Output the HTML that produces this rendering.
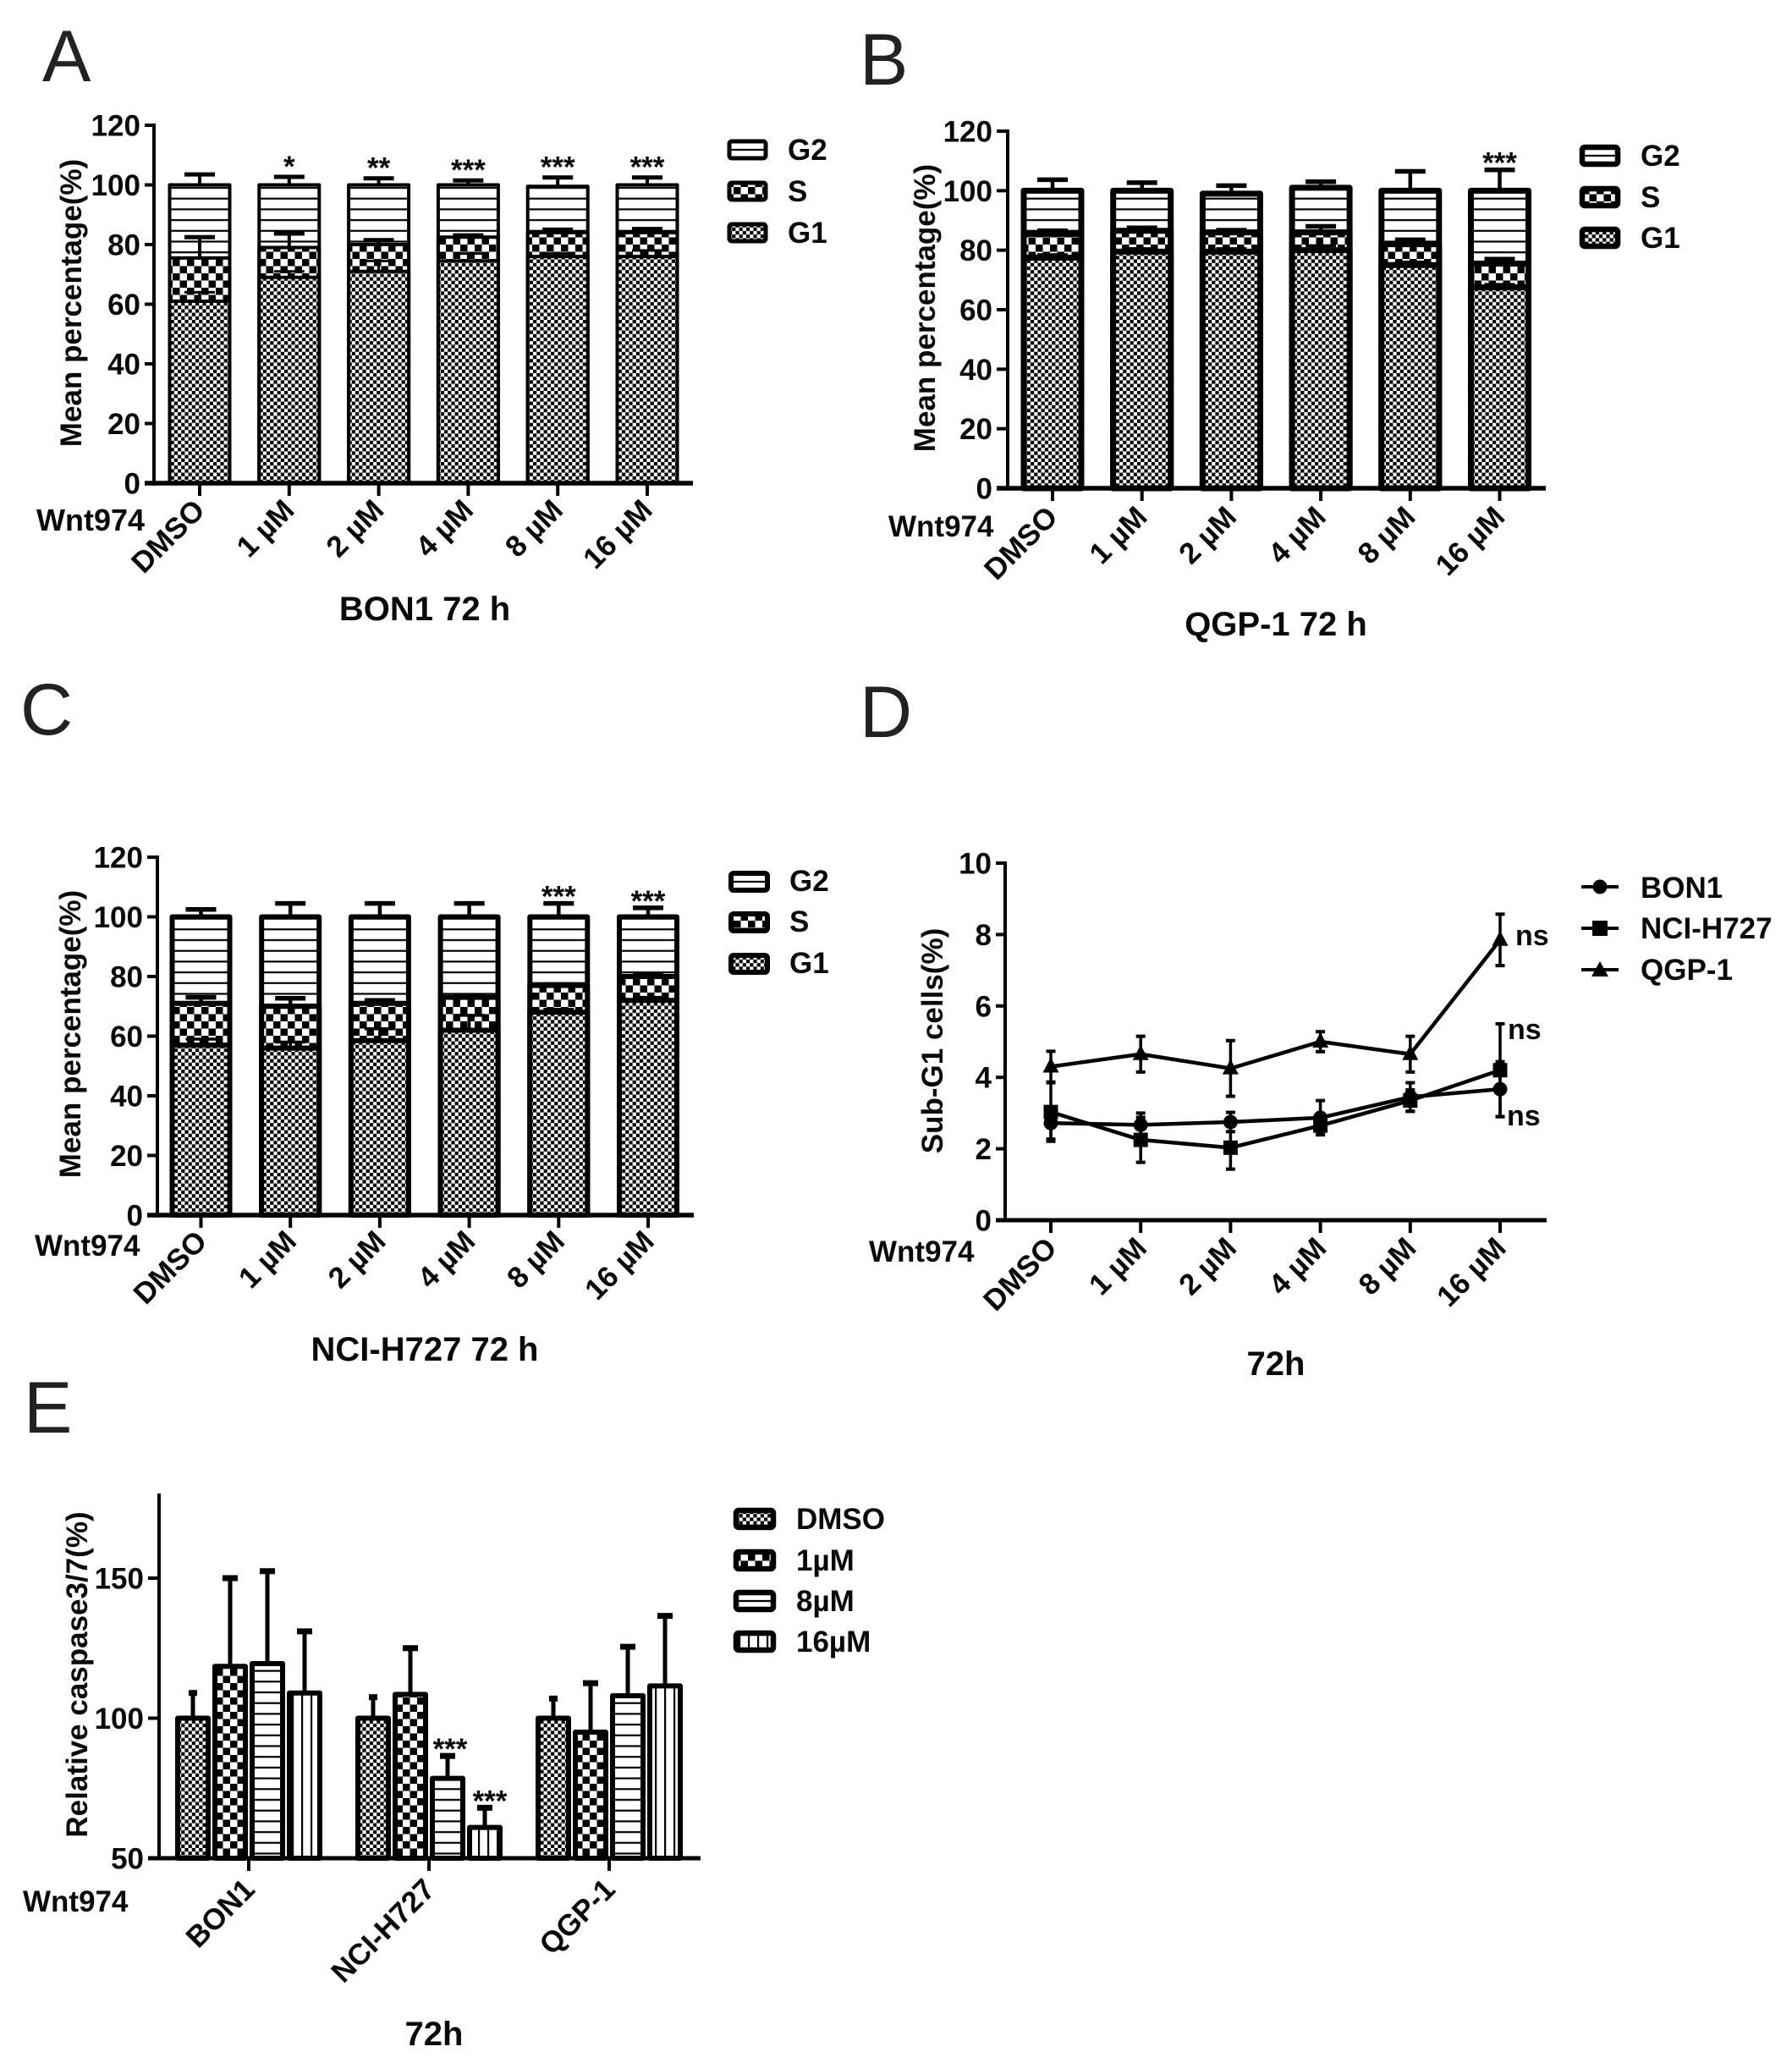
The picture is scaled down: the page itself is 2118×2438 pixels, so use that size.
<!DOCTYPE html>
<html lang="en">
<head>
<meta charset="utf-8">
<title>Wnt974 cell cycle, sub-G1 and caspase panels</title>
<style>
html,body{margin:0;padding:0;background:#fff;width:2118px;height:2438px;overflow:hidden}
svg{display:block}
text{font-family:"Liberation Sans",Arial,sans-serif;font-weight:700;fill:#0a0a0a}
.tk{font-size:35px}
.ttl{font-size:40px;text-anchor:middle}
.yt{font-size:35px;text-anchor:middle}
.lg{font-size:35px;transform:translate(-1px,-1px)}
.let{font-size:86px;font-weight:400;fill:#222}
.ns{font-size:34px}
</style>
</head>
<body>
<svg id="figure" xmlns="http://www.w3.org/2000/svg" width="2118" height="2438" viewBox="0 0 2118 2438">
<defs>
<pattern id="pFine" patternUnits="userSpaceOnUse" width="8.4" height="8.4"><rect width="8.4" height="8.4" fill="#fff"/><rect width="4.2" height="4.2" fill="#000"/><rect x="4.2" y="4.2" width="4.2" height="4.2" fill="#000"/></pattern>
<pattern id="pBig" patternUnits="userSpaceOnUse" width="17" height="17"><rect width="17" height="17" fill="#fff"/><rect width="8.5" height="8.5" fill="#000"/><rect x="8.5" y="8.5" width="8.5" height="8.5" fill="#000"/></pattern>
<pattern id="pHorz" patternUnits="userSpaceOnUse" width="12" height="12.7"><rect width="12" height="12.7" fill="#fff"/><rect y="5" width="12" height="2.2" fill="#000"/></pattern>
<pattern id="pVert" patternUnits="userSpaceOnUse" width="11" height="12"><rect width="11" height="12" fill="#fff"/><rect x="4" width="2.2" height="12" fill="#000"/></pattern>
</defs>
<rect width="2118" height="2438" fill="#fff"/>

<g id="panelA">
<text class="let" x="50" y="96">A</text>
<text class="yt" transform="translate(96,358) rotate(-90)">Mean percentage(%)</text>
<text class="tk" x="43" y="627" style="font-size:36px">Wnt974</text>
<text class="ttl" x="502" y="733">BON1 72 h</text>
<g>
<rect x="862" y="167" width="43" height="20" rx="3" fill="#fff" stroke="#000" stroke-width="5"/><line x1="862" x2="905" y1="177" y2="177" stroke="#000" stroke-width="2.2"/>
<rect x="862" y="216" width="43" height="20" rx="3" fill="url(#pBig)" stroke="#000" stroke-width="5"/>
<rect x="862" y="265" width="43" height="20" rx="3" fill="url(#pFine)" stroke="#000" stroke-width="5"/>
<text class="lg" x="932" y="190">G2</text>
<text class="lg" x="932" y="239">S</text>
<text class="lg" x="932" y="288">G1</text>
</g>
</g>

<g id="panelB">
<text class="let" x="1016" y="100">B</text>
<text class="yt" transform="translate(1105,364) rotate(-90)">Mean percentage(%)</text>
<text class="tk" x="1050" y="634">Wnt974</text>
<text class="ttl" x="1508" y="751">QGP-1 72 h</text>
<g>
<rect x="1870" y="174" width="42" height="20" rx="3" fill="#fff" stroke="#000" stroke-width="6.5"/><line x1="1870" x2="1912" y1="184" y2="184" stroke="#000" stroke-width="2.2"/>
<rect x="1870" y="223" width="42" height="20" rx="3" fill="url(#pBig)" stroke="#000" stroke-width="6.5"/>
<rect x="1870" y="271" width="42" height="20" rx="3" fill="url(#pFine)" stroke="#000" stroke-width="6.5"/>
<text class="lg" x="1940" y="197">G2</text>
<text class="lg" x="1940" y="246">S</text>
<text class="lg" x="1940" y="294">G1</text>
</g>
</g>

<g id="panelC">
<text class="let" x="24" y="868">C</text>
<text class="yt" transform="translate(95,1222) rotate(-90)">Mean percentage(%)</text>
<text class="tk" x="41" y="1484">Wnt974</text>
<text class="ttl" x="502" y="1608">NCI-H727 72 h</text>
<g>
<rect x="864" y="1032" width="43" height="20" rx="3" fill="#fff" stroke="#000" stroke-width="6"/><line x1="864" x2="907" y1="1042" y2="1042" stroke="#000" stroke-width="2.2"/>
<rect x="864" y="1080" width="43" height="20" rx="3" fill="url(#pBig)" stroke="#000" stroke-width="6"/>
<rect x="864" y="1129" width="43" height="20" rx="3" fill="url(#pFine)" stroke="#000" stroke-width="6"/>
<text class="lg" x="934" y="1054">G2</text>
<text class="lg" x="934" y="1102">S</text>
<text class="lg" x="934" y="1151">G1</text>
</g>
</g>

<g id="panelD">
<text class="let" x="1016" y="871">D</text>
<text class="yt" transform="translate(1114,1230) rotate(-90)">Sub-G1 cells(%)</text>
<text class="tk" x="1027" y="1491">Wnt974</text>
<text class="ttl" x="1508" y="1625">72h</text>
<g>
<line x1="1869" x2="1913" y1="1048" y2="1048" stroke="#000" stroke-width="4"/><circle cx="1891" cy="1048" r="8.5"/>
<line x1="1869" x2="1913" y1="1097" y2="1097" stroke="#000" stroke-width="4"/><rect x="1882" y="1088" width="18" height="18"/>
<line x1="1869" x2="1913" y1="1146" y2="1146" stroke="#000" stroke-width="4"/><polygon points="1891,1136 1901,1154 1881,1154"/>
<text class="lg" x="1940" y="1062">BON1</text>
<text class="lg" x="1940" y="1110">NCI-H727</text>
<text class="lg" x="1940" y="1159">QGP-1</text>
</g>
<text class="ns" x="1791" y="1117">ns</text>
<text class="ns" x="1782" y="1228">ns</text>
<text class="ns" x="1781" y="1330">ns</text>
</g>

<g id="panelE">
<text class="let" x="28" y="1693">E</text>
<text class="yt" transform="translate(103,1979) rotate(-90)">Relative caspase3/7(%)</text>
<text class="tk" x="27" y="2259">Wnt974</text>
<text class="ttl" x="513" y="2417">72h</text>
<g>
<rect x="870" y="1785" width="44" height="20" rx="3" fill="url(#pFine)" stroke="#000" stroke-width="6.5"/>
<rect x="870" y="1834" width="44" height="20" rx="3" fill="url(#pBig)" stroke="#000" stroke-width="6.5"/>
<rect x="870" y="1882" width="44" height="20" rx="3" fill="#fff" stroke="#000" stroke-width="6.5"/><line x1="870" x2="914" y1="1892" y2="1892" stroke="#000" stroke-width="2.2"/>
<rect x="870" y="1930" width="44" height="20" rx="3" fill="url(#pVert)" stroke="#000" stroke-width="6.5"/>
<text class="lg" x="942" y="1808">DMSO</text>
<text class="lg" x="942" y="1857">1µM</text>
<text class="lg" x="942" y="1905">8µM</text>
<text class="lg" x="942" y="1953">16µM</text>
</g>
</g>
</svg>

<script>
// ---- shared categories and tick labels ----
var doseCategories = ['DMSO', '1 µM', '2 µM', '4 µM', '8 µM', '16 µM'];
var stackTicks = [0, 20, 40, 60, 80, 100, 120];
var subG1Ticks = [0, 2, 4, 6, 8, 10];
var caspaseTicks = [50, 100, 150];
var cellLines = ['BON1', 'NCI-H727', 'QGP-1'];

// ---- panel A: BON1 72 h (segment means and SD) ----
var aG1 = [61, 69, 71, 74.5, 76, 76];
var aS = [14.5, 10, 9, 8, 8, 8];
var aG2 = [24.5, 21, 20, 17.5, 15.5, 16];
var aG1Err = [3, 2, 3.5, 2.5, 1, 2];
var aSErr = [7, 4.7, 1.5, 0.6, 1, 1.2];
var aG2Err = [3.5, 2.7, 2.2, 1.5, 3, 2.5];
var aStars = ['', '*', '**', '***', '***', '***'];

// ---- panel B: QGP-1 72 h ----
var bG1 = [77.5, 79.5, 79.5, 80, 75, 67.5];
var bS = [8, 7, 6.5, 6, 7, 8];
var bG2 = [14.5, 13.5, 13, 15, 18, 24.5];
var bG1Err = [1, 1, 1, 1.5, 1, 1];
var bSErr = [1, 1, 0.7, 2, 1.5, 1.5];
var bG2Err = [3.7, 2.7, 2.7, 2, 6.5, 7];
var bStars = ['', '', '', '', '', '***'];

// ---- panel C: NCI-H727 72 h ----
var cG1 = [57, 56, 58.5, 62, 68, 72];
var cS = [14, 14, 12.5, 11, 9, 8];
var cG2 = [29, 30, 29, 27, 23, 20];
var cG1Err = [2, 2, 4, 5, 1, 1];
var cSErr = [2, 2.7, 1, 0.3, 0.3, 0.5];
var cG2Err = [2.5, 4.5, 4.5, 4.5, 4.5, 3];
var cStars = ['', '', '', '', '***', '***'];

// ---- panel D: sub-G1 cells ----
var dBon1 = [2.72, 2.67, 2.75, 2.87, 3.45, 3.67];
var dNci = [3.03, 2.25, 2.03, 2.65, 3.35, 4.2];
var dQgp = [4.3, 4.65, 4.25, 5.0, 4.65, 7.85];
var dBon1Err = [0.45, 0.33, 0.27, 0.48, 0.4, 0.77];
var dNciErr = [0.82, 0.63, 0.6, 0.25, 0.3, 1.3];
var dQgpErr = [0.43, 0.5, 0.78, 0.28, 0.5, 0.72];

// ---- panel E: relative caspase 3/7 (rows follow cellLines) ----
var eDoses = ['DMSO', '1uM', '8uM', '16uM'];
var eDmso = [100, 100, 100];
var e1uM = [118.5, 108.5, 95];
var e8uM = [119.5, 78.5, 108];
var e16uM = [109, 61, 111.5];
var eDmsoErr = [9, 7.5, 7];
var e1uMErr = [31.5, 16.5, 17.5];
var e8uMErr = [33, 8, 17.5];
var e16uMErr = [22, 7, 25];
var eStars8uM = ['', '***', ''];
var eStars16uM = ['', '***', ''];

var SVGNS = 'http://www.w3.org/2000/svg';
function mk(parent, tag, attrs, txt) {
  var n = document.createElementNS(SVGNS, tag);
  for (var k in attrs) n.setAttribute(k, attrs[k]);
  if (txt !== undefined) n.textContent = txt;
  parent.appendChild(n);
  return n;
}
function linearY(v0, px0, v1, px1) {
  return function (v) { return px0 + (v - v0) * (px1 - px0) / (v1 - v0); };
}
function bandX(first, step) {
  return function (i) { return first + i * step; };
}
function axes(parent, o) {
  var axis = mk(parent, 'g', {});
  
  
  var yLine = mk(axis, 'line', { x1: o.axisX, x2: o.axisX, y1: o.yTop, y2: o.axisY + o.xw / 2, stroke: '#000', 'stroke-width': o.yw });
  
  
  var xLine = mk(axis, 'line', { x1: o.xStart, x2: o.xEnd, y1: o.axisY, y2: o.axisY, stroke: '#000', 'stroke-width': o.xw });
  
  
  o.yTicks.forEach(function (t) {
    var py = o.y(t);
    if (py !== o.axisY) mk(axis, 'line', { x1: o.xStart, x2: o.axisX, y1: py, y2: py, stroke: '#000', 'stroke-width': o.yw });
    var lab = mk(axis, 'text', { 'class': 'tk', x: o.xStart - 5, y: py + 12.5, 'text-anchor': 'end' }, String(t));
    
    
  });
  o.xLabels.forEach(function (c, i) {
    var px = o.x(i);
    mk(axis, 'line', { x1: px, x2: px, y1: o.axisY, y2: o.axisY + 15, stroke: '#000', 'stroke-width': o.yw });
    var ax = px + o.lx, ay = o.axisY + o.ly;
    var lab = mk(axis, 'text', { 'class': 'tk', 'text-anchor': 'end', transform: 'translate(' + ax + ',' + ay + ') rotate(-45)' }, c);
    
    
  });
}
function errBar(parent, px, from, to, capW, sw, capSw) {
  var g = mk(parent, 'g', {});
  
  
  mk(g, 'line', { x1: px, x2: px, y1: from, y2: to, stroke: '#000', 'stroke-width': sw });
  mk(g, 'line', { x1: px - capW / 2, x2: px + capW / 2, y1: to, y2: to, stroke: '#000', 'stroke-width': capSw });
}
function stackedChart(id, o, g1, s, g2, g1e, se, g2e, stars) {
  var root = document.getElementById(id);
  var y = linearY(0, o.y0, 120, o.y120);
  var x = bandX(o.x0, o.step);
  var marks = mk(root, 'g', {});
  
  
  doseCategories.forEach(function (c, i) {
    var cx = x(i);
    var w = o.barW;
    var g1Top = g1[i], sTop = g1[i] + s[i], g2Top = sTop + g2[i];
    var g2Rect = mk(marks, 'rect', { x: cx - w / 2, y: y(g2Top), width: w, height: o.y0 - y(g2Top), fill: 'url(#pHorz)', stroke: '#000', 'stroke-width': o.sw, 'stroke-linejoin': 'round' });
    
    
    errBar(marks, cx, y(g2Top), y(g2Top + g2e[i]), 36, o.ew, o.ew + 1);
    var sRect = mk(marks, 'rect', { x: cx - w / 2, y: y(sTop), width: w, height: o.y0 - y(sTop), fill: 'url(#pBig)', stroke: '#000', 'stroke-width': o.sw, 'stroke-linejoin': 'round' });
    
    
    errBar(marks, cx, y(sTop), y(sTop + se[i]), 36, o.ew, o.ew + 1);
    var gRect = mk(marks, 'rect', { x: cx - w / 2, y: y(g1Top), width: w, height: o.y0 - y(g1Top), fill: 'url(#pFine)', stroke: '#000', 'stroke-width': o.sw, 'stroke-linejoin': 'round' });
    
    
    errBar(marks, cx, y(g1Top), y(g1Top + g1e[i]), 36, o.ew - 1, o.ew - 1);
    if (stars[i]) {
      var st = mk(marks, 'text', { 'class': 'tk', x: cx, y: y(g2Top + g2e[i]) + o.so, 'text-anchor': 'middle' }, stars[i]);
      
      
    }
  });
  axes(root, { axisX: o.axisX, axisY: o.y0, yTop: o.y120 - 2, xStart: o.xStart, xEnd: o.xEnd, yw: 4, xw: 5.5, y: y, x: x, yTicks: stackTicks, xLabels: doseCategories, lx: o.lx, ly: o.ly });
}

stackedChart('panelA', { y0: 571, y120: 148, x0: 236, step: 105.8, barW: 71, sw: 4, ew: 4, axisX: 182, xStart: 171, xEnd: 819, lx: 8, ly: 34, so: 0 }, aG1, aS, aG2, aG1Err, aSErr, aG2Err, aStars);
stackedChart('panelB', { y0: 577, y120: 155, x0: 1244, step: 105.7, barW: 68, sw: 7, ew: 4.5, axisX: 1191, xStart: 1178, xEnd: 1827, lx: 8, ly: 36, so: 4 }, bG1, bS, bG2, bG1Err, bSErr, bG2Err, bStars);
stackedChart('panelC', { y0: 1436, y120: 1013, x0: 237.5, step: 105.7, barW: 68, sw: 6, ew: 4.5, axisX: 186, xStart: 174, xEnd: 820, lx: 9, ly: 33, so: 4 }, cG1, cS, cG2, cG1Err, cSErr, cG2Err, cStars);

// panel D
(function () {
  var root = document.getElementById('panelD');
  var y = linearY(0, 1442, 10, 1020);
  var x = bandX(1242, 106.2);
  var series = [
    { name: 'bon1', v: dBon1, e: dBon1Err, m: 'circle' },
    { name: 'nci-h727', v: dNci, e: dNciErr, m: 'square' },
    { name: 'qgp-1', v: dQgp, e: dQgpErr, m: 'triangle' }
  ];
  series.forEach(function (ser) {
    var g = mk(root, 'g', {});
    
    
    var pts = ser.v.map(function (v, i) { return x(i) + ',' + y(v); }).join(' ');
    var pl = mk(g, 'polyline', { points: pts, fill: 'none', stroke: '#000', 'stroke-width': 4.5, 'stroke-linejoin': 'round' });
    
    
    ser.v.forEach(function (v, i) {
      var px = x(i), py = y(v);
      errBar(g, px, y(v - ser.e[i]), y(v + ser.e[i]), 11, 3.5, 4);
      mk(g, 'line', { x1: px - 5.5, x2: px + 5.5, y1: y(v - ser.e[i]), y2: y(v - ser.e[i]), stroke: '#000', 'stroke-width': 4 });
      var marker;
      if (ser.m === 'circle') marker = mk(g, 'circle', { cx: px, cy: py, r: 8.5 });
      else if (ser.m === 'square') marker = mk(g, 'rect', { x: px - 8.5, y: py - 8.5, width: 17, height: 17 });
      else marker = mk(g, 'polygon', { points: px + ',' + (py - 11) + ' ' + (px + 9.5) + ',' + (py + 7) + ' ' + (px - 9.5) + ',' + (py + 7) });
      
      
    });
  });
  axes(root, { axisX: 1188, axisY: 1442, yTop: 1018, xStart: 1177, xEnd: 1828, yw: 4, xw: 5, y: y, x: x, yTicks: subG1Ticks, xLabels: doseCategories, lx: 9, ly: 35 });
})();

// panel E
(function () {
  var root = document.getElementById('panelE');
  var y = linearY(50, 2196, 150, 1865);
  var x = bandX(294, 213);
  var groups = [
    { dose: eDoses[0], v: eDmso, e: eDmsoErr, fill: 'url(#pFine)', stars: null, sdx: 0 },
    { dose: eDoses[1], v: e1uM, e: e1uMErr, fill: 'url(#pBig)', stars: null, sdx: 0 },
    { dose: eDoses[2], v: e8uM, e: e8uMErr, fill: 'url(#pHorz)', stars: eStars8uM, sdx: 3 },
    { dose: eDoses[3], v: e16uM, e: e16uMErr, fill: 'url(#pVert)', stars: eStars16uM, sdx: 6 }
  ];
  var marks = mk(root, 'g', {});
  
  
  groups.forEach(function (d, si) {
    cellLines.forEach(function (c, gi) {
      var cx = x(gi) + (si - 1.5) * 44;
      var capW = d.dose === 'DMSO' ? 10 : 18;
      var top = y(d.v[gi]);
      errBar(marks, cx, top, y(d.v[gi] + d.e[gi]), capW, 5, 7);
      var bar = mk(marks, 'rect', { x: cx - 18, y: top, width: 36, height: 2196 - top, fill: d.fill, stroke: '#000', 'stroke-width': 6, 'stroke-linejoin': 'round' });
      
      
      if (d.stars && d.stars[gi]) {
        var st = mk(marks, 'text', { 'class': 'tk', x: cx + d.sdx, y: y(d.v[gi] + d.e[gi]) + 4, 'text-anchor': 'middle' }, d.stars[gi]);
        
        
      }
    });
  });
  axes(root, { axisX: 188, axisY: 2196, yTop: 1765, xStart: 175, xEnd: 828, yw: 4, xw: 5, y: y, x: x, yTicks: caspaseTicks, xLabels: cellLines, lx: 9, ly: 39 });
})();
</script>
</body>
</html>
